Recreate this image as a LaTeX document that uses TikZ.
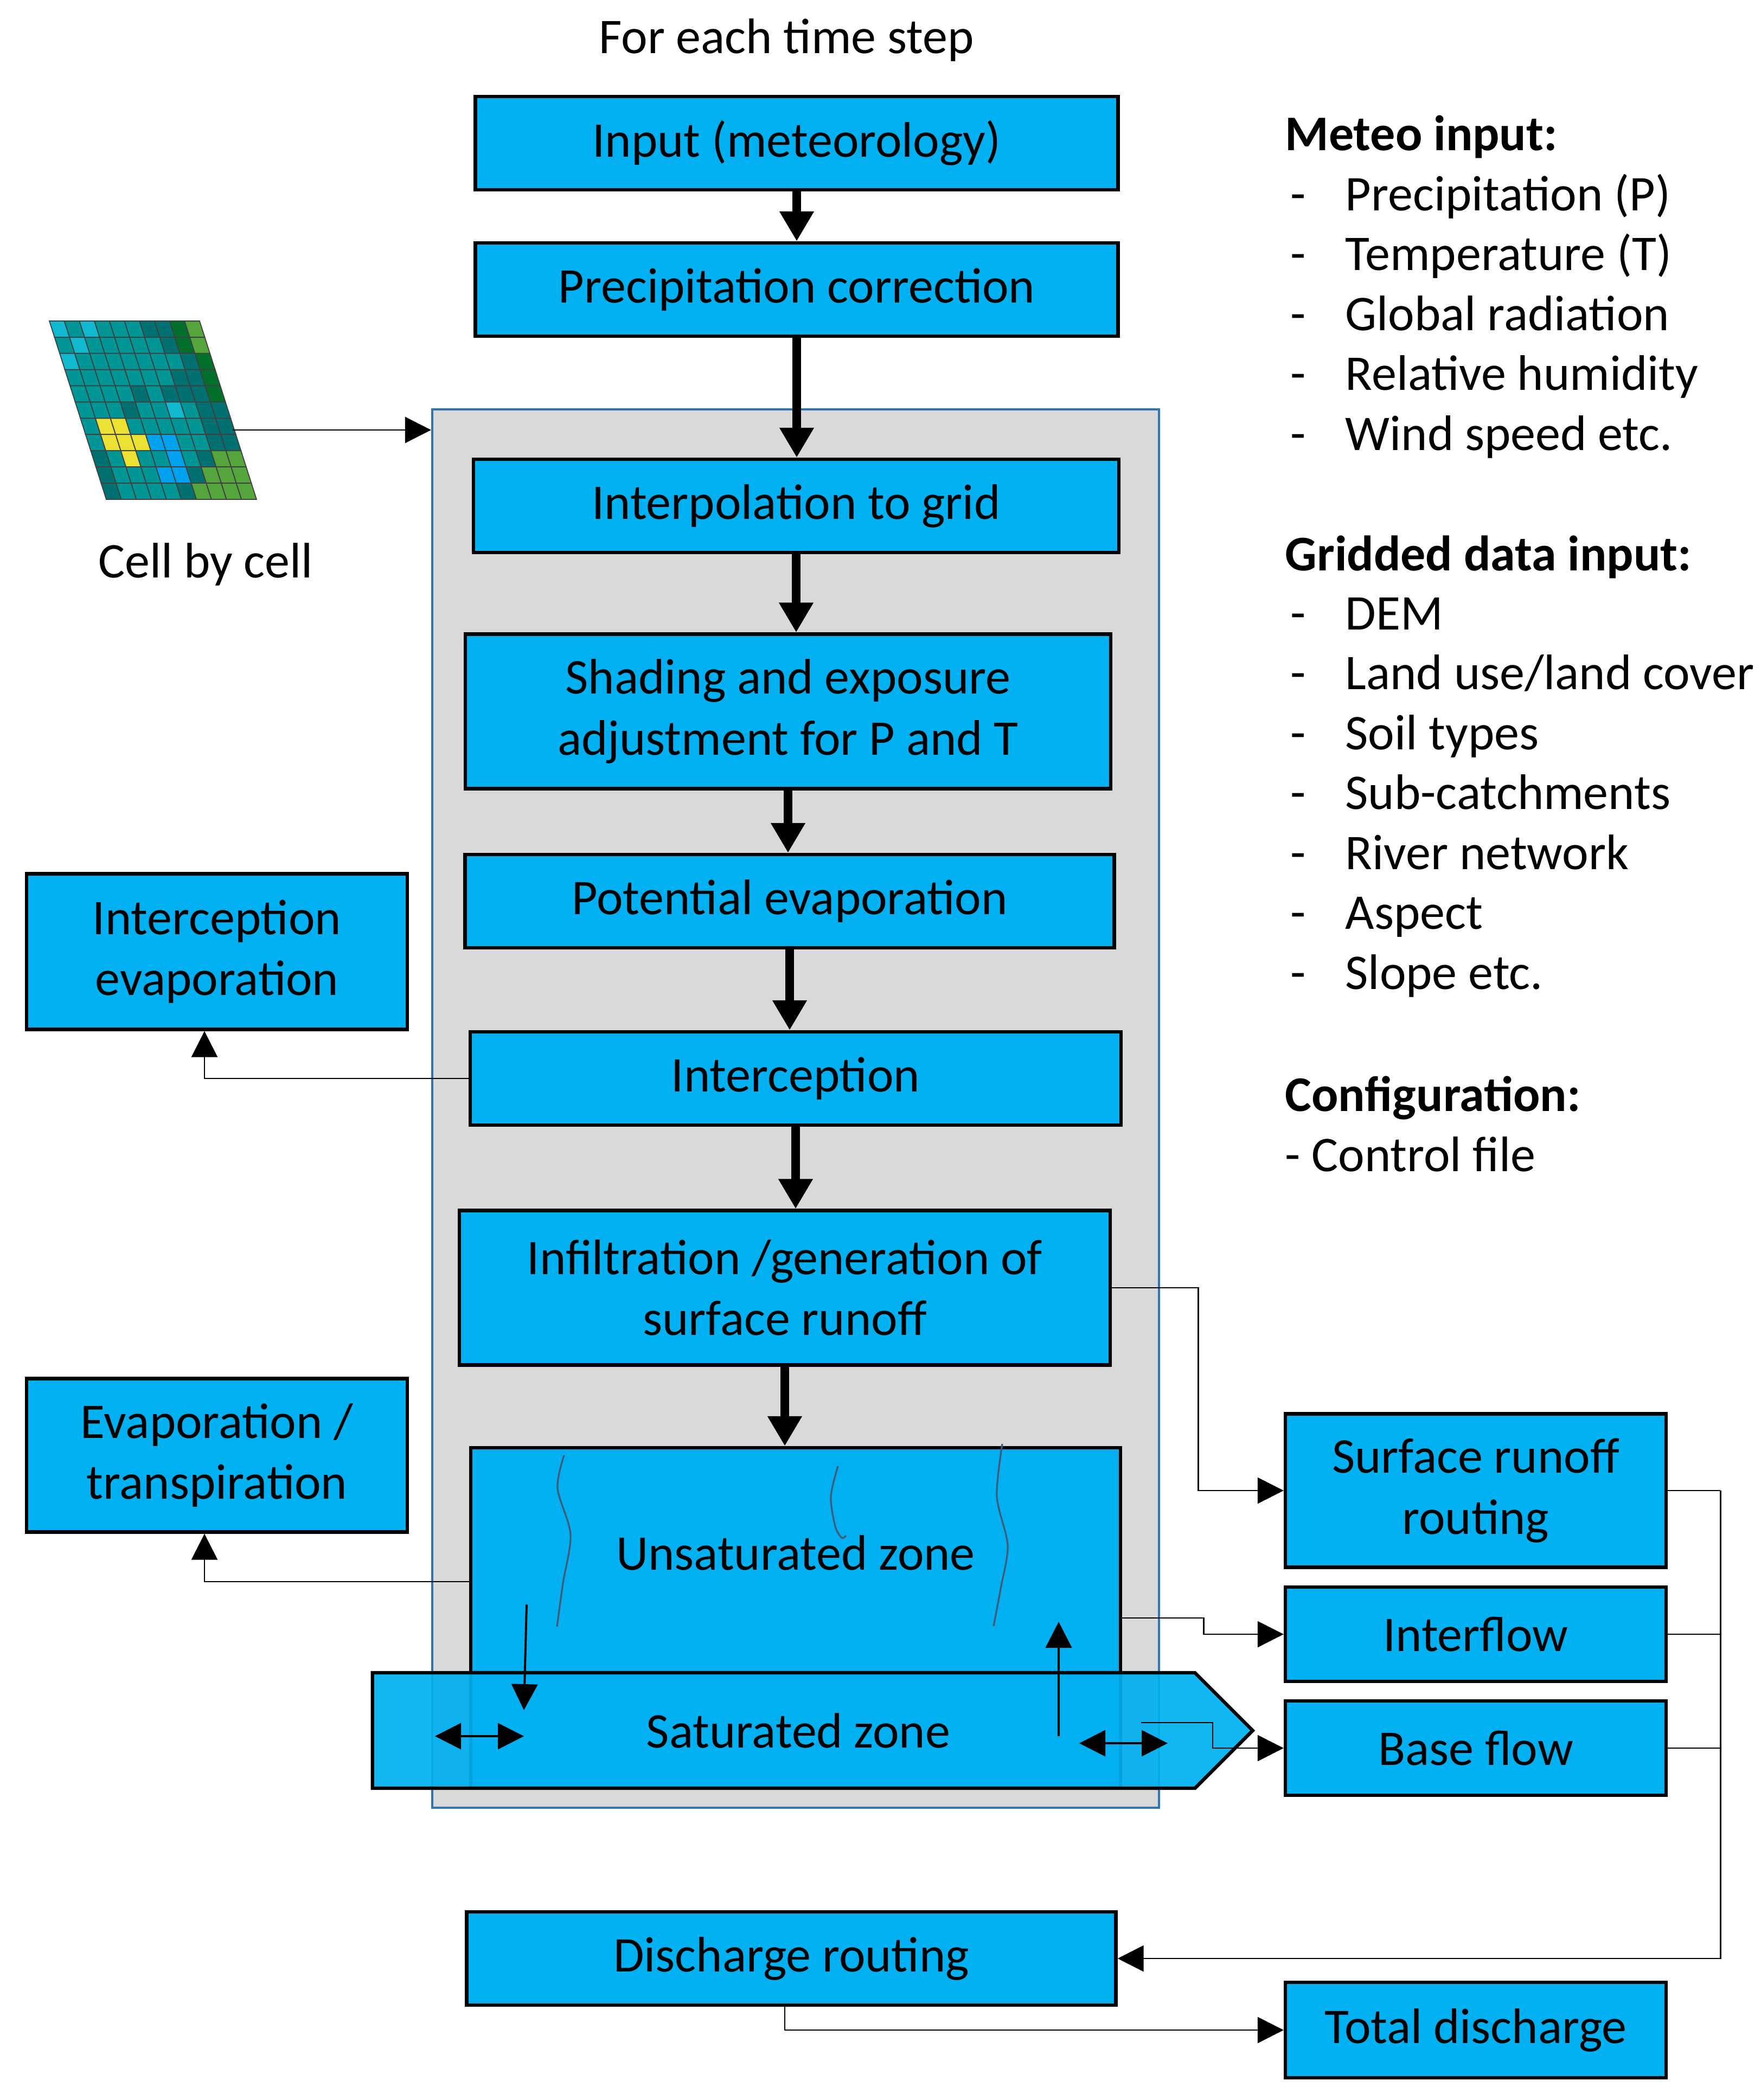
\documentclass[tikz,border=0pt]{standalone}
\usepackage{fontspec}
\setmainfont{Carlito}
\usetikzlibrary{arrows.meta,shapes.symbols}
\definecolor{boxblue}{HTML}{00B0F0}
\definecolor{regfill}{HTML}{D9D9D9}
\definecolor{regline}{HTML}{2E75B6}
\definecolor{rootline}{HTML}{3E5C7A}
\definecolor{gc}{RGB}{16,184,208}
\definecolor{gt}{RGB}{0,150,150}
\definecolor{gd}{RGB}{0,112,112}
\definecolor{gg}{RGB}{0,112,44}
\definecolor{gl}{RGB}{84,166,60}
\definecolor{gy}{RGB}{236,226,52}
\definecolor{gb}{RGB}{0,162,240}

\begin{document}
\begin{tikzpicture}[y=-1cm,>={Triangle[length=0.48cm,width=0.48cm]},
    font=\fontsize{26.2}{32}\selectfont,
    box/.style={draw,line width=1.8pt,fill=boxblue,align=center,minimum height=1.72cm,inner sep=2pt},
    wide/.style={box,minimum width=11.9cm},
    side/.style={box,minimum width=7.02cm},
    flow/.style={-{Triangle[length=0.55cm,width=0.6cm]},line width=4.5pt},
    link/.style={->,line width=0.8pt},
    zarr/.style={line width=1.1pt},
    txt/.style={anchor=base west,inner sep=0pt}]
    \useasboundingbox (0,0) rectangle (32.46,38.73);
    \node (tstep) at (14.50,0.74) {For each time step};
    \node[draw=regline,line width=1.2pt,fill=regfill,minimum width=13.4cm,minimum height=25.79cm,inner sep=0] (cellbox) at (14.67,20.445) {};
    \node[wide,minimum width=11.85cm] (inp) at (14.69,2.64) {Input (meteorology)};
    \node[wide,minimum width=11.85cm] (pcor) at (14.69,5.34) {Precipitation correction};
    \node[wide] (interp) at (14.68,9.33) {Interpolation to grid};
    \node[wide,minimum height=2.85cm] (shade) at (14.53,13.12) {Shading and exposure\\adjustment for P and T};
    \node[wide,minimum width=11.97cm] (pevap) at (14.56,16.62) {Potential evaporation};
    \node[wide,minimum width=12cm] (intc) at (14.67,19.89) {Interception};
    \node[wide,minimum width=12cm,minimum height=2.85cm] (infil) at (14.47,23.75) {Infiltration /generation of\\surface runoff};
    \node[wide,minimum width=11.98cm,minimum height=6.28cm,text depth=2.42cm] (unsat) at (14.67,29.84) {Unsaturated zone};
    \draw[rootline,line width=0.9pt] plot[smooth] coordinates {(10.40,26.84) (10.28,27.45) (10.52,28.3) (10.38,29.2) (10.27,30.0)};
    \draw[rootline,line width=0.9pt] plot[smooth] coordinates {(15.45,27.04) (15.32,27.6) (15.40,28.15) (15.52,28.36) (15.60,28.32)};
    \draw[rootline,line width=0.9pt] plot[smooth] coordinates {(18.48,26.63) (18.38,27.6) (18.58,28.5) (18.45,29.3) (18.32,29.99)};
    \node[draw,line width=1.8pt,fill=boxblue,fill opacity=0.93,text opacity=1,signal,signal to=east,signal pointer angle=90,minimum width=16.23cm,minimum height=2.13cm,inner sep=0] (sat) at (14.45,31.915) {\hspace*{0.54cm}Saturated zone};
    \draw[<->,zarr] (8.02,32.02) -- (9.66,32.02);
    \draw[<->,zarr] (19.90,32.15) -- (21.53,32.15);
    \draw[->,zarr] (9.71,29.59) -- (9.66,31.54);
    \draw[->,zarr] (19.52,32.02) -- (19.52,29.91);
    \node[side,minimum height=2.87cm] (ievap) at (4.00,17.55) {Interception\\evaporation};
    \node[side,minimum height=2.83cm] (evtr) at (4.00,26.84) {Evaporation /\\transpiration};
    \node[side,minimum height=2.83cm] (srr) at (27.21,27.49) {Surface runoff\\routing};
    \node[side,minimum height=1.74cm] (ifl) at (27.21,30.14) {Interflow};
    \node[side,minimum height=1.74cm] (bfl) at (27.21,32.24) {Base flow};
    \node[wide,minimum width=11.97cm] (drt) at (14.59,36.12) {Discharge routing};
    \node[side,minimum height=1.76cm] (tdis) at (27.21,37.44) {Total discharge};
    \foreach \a/\b in {inp/pcor,pcor/interp,interp/shade,shade/pevap,pevap/intc,intc/infil,infil/unsat}
        \draw[flow] (\a.south) -- (\a.south |- \b.north);
    \draw[link] (intc.west) -| ([xshift=-0.23cm]ievap.south);
    \draw[link] ([yshift=0.67cm]unsat.west) -| ([xshift=-0.23cm]evtr.south);
    \draw[link] (infil.east) -- ++(1.59,0) |- (srr.west);
    \draw[link] (unsat.east) -- ++(1.5,0) |- (ifl.west);
    \coordinate (bfin) at (21.04,31.77);
    \draw[link] (bfin) -- (22.36,31.77) |- (bfl.west);
    \draw[line width=0.8pt] (srr.east) -- ++(0.97,0) coordinate (col);
    \draw[line width=0.8pt] (ifl.east) -- (ifl.east -| col);
    \draw[line width=0.8pt] (bfl.east) -- (bfl.east -| col);
    \draw[link] (col) |- (drt.east);
    \draw[link] ([xshift=-0.12cm]drt.south) |- (tdis.west);
    \foreach \row [count=\ri from 0] in {{c,t,c,t,t,t,d,d,g,l},{t,c,t,t,t,t,t,d,g,l},{c,t,t,t,t,t,t,t,d,g},
        {t,t,t,t,t,t,t,d,d,g},{t,t,t,t,d,t,d,d,d,g},{t,t,t,d,t,t,c,t,d,d},{t,y,y,t,t,t,t,t,d,d},
        {t,y,y,y,b,b,t,t,d,d},{d,t,y,t,t,b,t,d,l,l},{d,t,t,t,b,b,d,l,l,l},{d,t,t,t,t,d,l,l,l,l}}
        \foreach \cl [count=\ci from 0] in \row
            \filldraw[fill=g\cl,draw=black!75,line width=0.5pt] ({0.91+0.277*\ci+0.0954*\ri},{5.92+0.299*\ri})
                -- ++(0.277,0) -- ++(0.0954,0.299) -- ++(-0.277,0) -- cycle;
    \coordinate (iconout) at (4.29,7.93);
    \draw[link] (iconout) -- (iconout -| cellbox.west);
    \node (celltxt) at (3.79,10.41) {Cell by cell};
    \node[txt] (meteo) at (23.69,2.77) {\bfseries Meteo input:};
    \foreach \txt [count=\i from 0] in {Precipitation (P),Temperature (T),Global radiation,Relative humidity,Wind speed etc.}{
        \node[txt] (metd\i) at (23.79,{3.88+1.105*\i}) {-};
        \node[txt] (met\i) at (24.80,{3.88+1.105*\i}) {\txt};
    }
    \node[txt] (grid) at (23.69,10.52) {\bfseries Gridded data input:};
    \foreach \txt [count=\i from 0] in {DEM,Land use/land cover,Soil types,Sub-catchments,River network,Aspect,Slope etc.}{
        \node[txt] (grdd\i) at (23.79,{11.61+1.105*\i}) {-};
        \node[txt] (grd\i) at (24.80,{11.61+1.105*\i}) {\txt};
    }
    \node[txt] (conf) at (23.69,20.49) {\bfseries Configuration:};
    \node[txt] (ctrl) at (23.69,21.60) {- Control file};
\end{tikzpicture}
\end{document}
